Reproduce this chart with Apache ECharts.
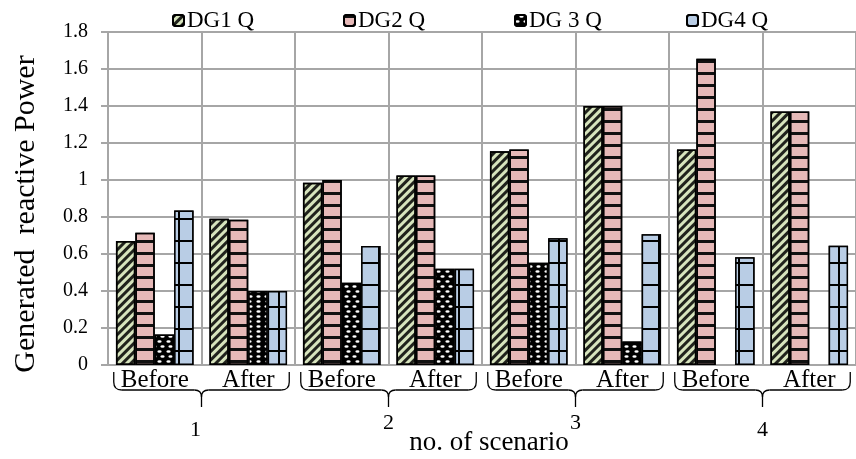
<!DOCTYPE html>
<html>
<head>
<meta charset="utf-8">
<script src="https://cdn.jsdelivr.net/npm/echarts@6/dist/echarts.min.js"></script>
<style>
html,body{margin:0;padding:0;background:#fff;}
#main{width:856px;height:459px;}
</style>
</head>
<body>
<div id="main"></div>
<script>
const categories = ['Before','After','Before','After','Before','After','Before','After'];
const scenarios = ['1','2','3','4'];
const seriesNames = ['DG1 Q','DG2 Q','DG 3 Q','DG4 Q'];
const dg1 = [0.67, 0.79, 0.985, 1.025, 1.155, 1.40, 1.165, 1.37];
const dg2 = [0.715, 0.785, 1.0, 1.025, 1.165, 1.40, 1.655, 1.37];
const dg3 = [0.165, 0.40, 0.445, 0.52, 0.553, 0.127, null, null];
const dg4 = [0.835, 0.40, 0.643, 0.52, 0.685, 0.707, 0.583, 0.645];
const yTicks = [0, 0.2, 0.4, 0.6, 0.8, 1, 1.2, 1.4, 1.6, 1.8];

const FONT = 'Liberation Serif';
const GRID = '#a6a6a6';

const styles = [
  {color:'#d7e4bd', decal:{symbol:'rect', symbolSize:1, color:'rgba(0,0,0,0.85)', dashArrayX:[1,0], dashArrayY:[2.2,3], rotation:-Math.PI/4}},
  {color:'#e6b9b8', decal:{symbol:'rect', symbolSize:1, color:'#111', dashArrayX:[1,0], dashArrayY:[2.2,8.3], rotation:0}},
  {color:'#000', decal:{symbol:'path://M0,3 A5,3 0 1,1 10,3 A5,3 0 1,1 0,3 Z', symbolSize:0.85, color:'#fff', dashArrayX:[[4.5,3],[0,3.75,4.5,-0.75]], dashArrayY:[3,1.6], rotation:0}},
  {color:'#000', decal:{symbol:'rect', symbolSize:1, color:'#b9cde5', dashArrayX:[18,2], dashArrayY:[19.5,2], rotation:0}}
];
const values = [dg1, dg2, dg3, dg4];

const chart = echarts.init(document.getElementById('main'), null, {renderer:'canvas'});
const legendLeft = [167, 338, 509, 681];

const option = {
  animation:false,
  backgroundColor:'#fff',
  grid:{left:108, top:32, width:755, height:333, containLabel:false},
  legend: seriesNames.map((n,i)=>({
    data:[n], left:legendLeft[i], top:4, itemWidth:11, itemHeight:11, itemGap:0,
    textStyle:{fontFamily:FONT, fontSize:23, color:'#000', padding:[0,0,0,-2]},
    selectedMode:false
  })),
  xAxis:{
    type:'category', data:categories, boundaryGap:true,
    axisLine:{lineStyle:{color:GRID, width:2}},
    axisTick:{show:false},
    splitLine:{show:true, lineStyle:{color:GRID, width:2}},
    axisLabel:{interval:0, fontFamily:FONT, fontSize:25, color:'#000', margin:3}
  },
  yAxis:{
    type:'value', min:0, max:1.8, interval:0.2,
    axisLine:{show:true, lineStyle:{color:GRID, width:2}},
    axisTick:{show:true, length:7, lineStyle:{color:GRID, width:2}},
    splitLine:{show:true, lineStyle:{color:GRID, width:2}},
    axisLabel:{fontFamily:FONT, fontSize:20, color:'#000', margin:20,
      formatter:(v)=>{ const t = yTicks.find(x=>Math.abs(x-v)<1e-6); return String(t!==undefined?t:v); }}
  },
  series: seriesNames.map((n,i)=>({
    name:n, type:'bar', data:values[i], barGap:'0%', barCategoryGap:'17%',
    itemStyle:{color:styles[i].color, decal:styles[i].decal, borderColor:'#000', borderWidth:1.5}
  }))
};
chart.setOption(option);

// annotations placed from the category scale
const g = [];
const labelY = [430, 423, 423, 430];
const labelDx = [-6, 0, 0, 0];
const bs = {stroke:'#000', lineWidth:1.3, fill:null};
function line(xa,ya,xb,yb){ g.push({type:'line', silent:true, shape:{x1:xa,y1:ya,x2:xb,y2:yb}, style:bs}); }
function curve(xa,ya,cx,cy,xb,yb){ g.push({type:'bezierCurve', silent:true, shape:{x1:xa,y1:ya,cpx1:cx,cpy1:cy,x2:xb,y2:yb}, style:bs}); }
for (let i=0;i<scenarios.length;i++){
  const xb = chart.convertToPixel({xAxisIndex:0}, 2*i);
  const xa = chart.convertToPixel({xAxisIndex:0}, 2*i+1);
  const mid = (xb+xa)/2, x0 = xb-41, x1 = xa+41;
  line(x0,372,x0,382); curve(x0,382,x0,390,x0+8,390); line(x0+8,390,mid-7,390);
  curve(mid-7,390,mid,390,mid,397); line(mid,397,mid,407);
  curve(mid,397,mid,390,mid+7,390); line(mid+7,390,x1-8,390);
  curve(x1-8,390,x1,390,x1,382); line(x1,382,x1,372);
  g.push({type:'text', x:mid+labelDx[i], y:labelY[i], style:{text:scenarios[i], font:`22px "${FONT}"`, fill:'#000', textAlign:'center', textVerticalAlign:'middle'}});
}
g.push({type:'text', x:489, y:443, style:{text:'no. of scenario', font:`27px "${FONT}"`, fill:'#000', textAlign:'center', textVerticalAlign:'middle'}});
g.push({type:'text', x:26, y:214, rotation:Math.PI/2, style:{text:'Generated  reactive Power', font:`30px "${FONT}"`, fill:'#000', textAlign:'center', textVerticalAlign:'middle'}});
chart.setOption({graphic:g});
</script>
</body>
</html>
